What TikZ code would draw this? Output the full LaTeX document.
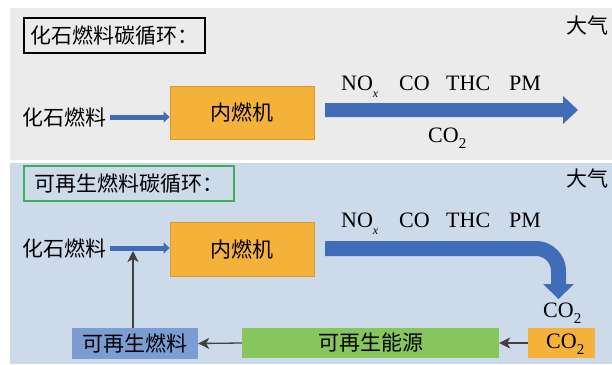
\documentclass[tikz,border=0pt]{standalone}
\usepackage{fontspec}
\setmainfont{Liberation Serif}
\newfontfamily\cjk{Noto Sans CJK SC}
\usetikzlibrary{arrows.meta}
\definecolor{panelgray}{HTML}{EBEBEB}
\definecolor{panelblue}{HTML}{CDDAEA}
\definecolor{arrblue}{HTML}{3F6DB7}
\definecolor{orng}{HTML}{F4B23A}
\definecolor{orngdk}{HTML}{D99A2B}
\definecolor{grn}{HTML}{87C55D}
\definecolor{grnbd}{HTML}{3DAE5A}
\definecolor{bbox}{HTML}{7B9DD4}
\definecolor{thin}{HTML}{404040}
\newcommand{\subtwo}{\raisebox{-6pt}{\fontsize{15}{15}\selectfont 2}}
\begin{document}
\begin{tikzpicture}[x=1pt,y=-1pt,
  cjktext/.style={font=\cjk\fontsize{21}{21}\selectfont, inner sep=0pt},
  lat/.style={font=\fontsize{22}{22}\selectfont, inner sep=0pt, anchor=base west},
  titlebox/.style={draw, line width=1.2pt, cjktext, inner xsep=6pt, minimum height=35pt},
  engine/.style={draw=orngdk, fill=orng, line width=0.8pt, cjktext, minimum width=144pt},
  flatbox/.style={cjktext, minimum height=30pt},
  fuelarrow/.style={draw=arrblue, line width=5pt, -{Triangle[length=6pt,width=11pt]}},
  thinarrow/.style={draw=thin, line width=1.3pt, -{Stealth[length=11pt,width=11pt,inset=3pt]}},
  bigarrow/.style={fill=arrblue, draw=none}
]
\useasboundingbox (0,0) rectangle (612,364);
\fill[white] (0,0) rectangle (612,364);
% panels
\fill[panelgray] (10,8) rectangle (612,160);
\fill[panelblue] (10,163) rectangle (612,364);

% ---------- top panel ----------
\node[titlebox, draw=black, minimum width=181pt] (t1) at (114.5,35.5) {化石燃料碳循环：};
\node[cjktext, anchor=east] at (609,25) {大气};
\node[cjktext, anchor=west] (f1) at (22,117) {化石燃料};
\node[engine, minimum height=53pt] (e1) at (242,112.5) {内燃机};
\draw[fuelarrow] ([xshift=4pt]f1.east) -- (f1.east -| e1.west);
\path[bigarrow] (325,103) -- (563,103) -- (563,96) -- (578,110) -- (563,124) -- (563,117) -- (325,117) -- cycle;
\node[lat] (nox1) at (341,90) {NO\raisebox{-7pt}{\fontsize{12}{12}\selectfont\itshape x}};
\node[lat] (co1) at (399,90) {CO};
\node[lat] (thc1) at (446,90) {THC};
\node[lat] (pm1) at (509,90) {PM};
\node[lat] (co21) at (428,142) {CO\subtwo};

% ---------- bottom panel ----------
\node[titlebox, draw=grnbd, minimum width=210pt] (t2) at (129,183.5) {可再生燃料碳循环：};
\node[cjktext, anchor=east] at (609,178) {大气};
\node[cjktext, anchor=west] (f2) at (22,248) {化石燃料};
\node[engine, minimum height=54pt] (e2) at (242,249) {内燃机};
\draw[fuelarrow] ([xshift=4pt]f2.east) -- (f2.east -| e2.west);
\path[bigarrow] (325,241) -- (536,241) .. controls (552.57,241) and (566,254.43) .. (566,271)
  -- (566,284) -- (574,284) -- (558.5,299) -- (543,284) -- (551,284) -- (551,271)
  .. controls (551,262.72) and (544.28,256) .. (536,256) -- (325,256) -- cycle;
\node[lat] (nox2) at (341,227) {NO\raisebox{-7pt}{\fontsize{12}{12}\selectfont\itshape x}};
\node[lat] (co2a) at (399,227) {CO};
\node[lat] (thc2) at (446,227) {THC};
\node[lat] (pm2) at (509,227) {PM};
\node[lat] (co2b) at (543,317) {CO\subtwo};

\node[flatbox, fill=orng, minimum width=67pt] (cb) at (561.5,343) {};
\node[lat] at (546,348) {CO\subtwo};
\node[flatbox, fill=grn, minimum width=257pt] (gb) at (370.5,343) {可再生能源};
\node[flatbox, fill=bbox, minimum width=126pt, minimum height=31pt] (rb) at (135,343.5) {可再生燃料};
\coordinate (j) at (133,251);
\draw[thinarrow] (cb.west) -- (gb.east);
\draw[thinarrow] (gb.west) -- (rb.east);
\draw[thinarrow] (rb.north -| j) -- (j);
\end{tikzpicture}
\end{document}
